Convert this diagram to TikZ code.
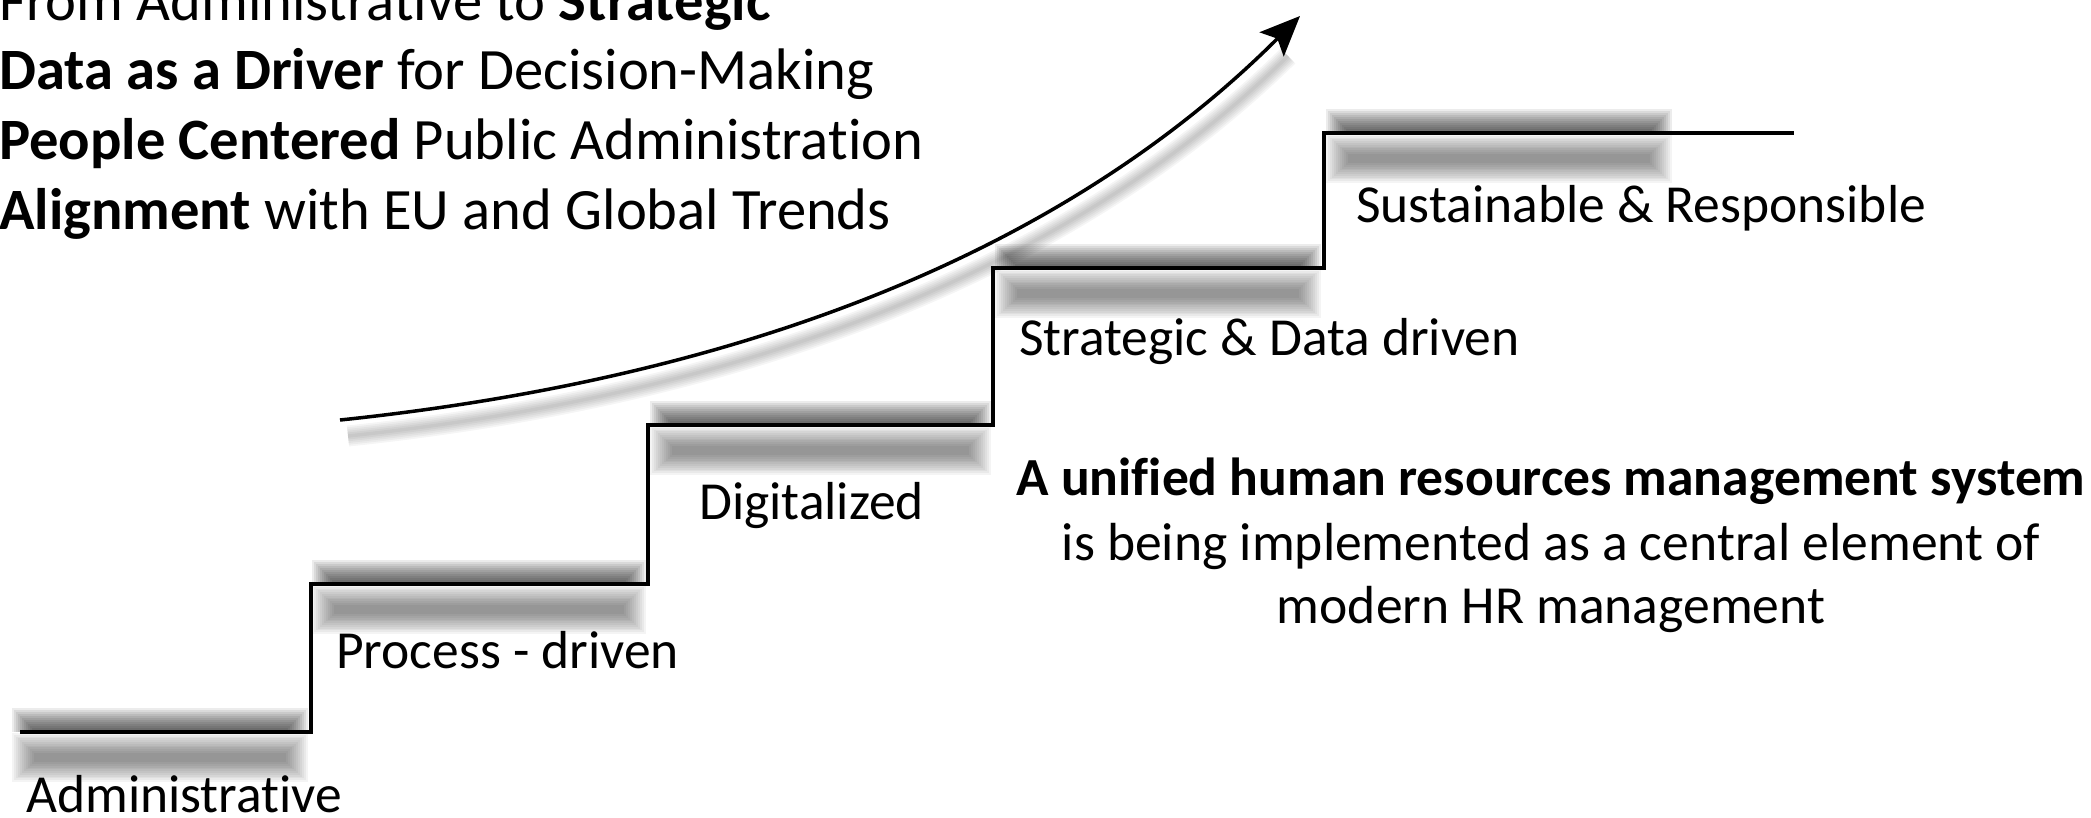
\documentclass[tikz,border=0pt]{standalone}
\usepackage{fontspec}
\setmainfont{Carlito}[Ligatures=NoCommon]
\usetikzlibrary{arrows.meta}

\tikzset{
  stair/.style={line width=4pt, line join=miter, line cap=butt},
  growth/.style={line width=3.5pt, -{Stealth[length=40pt,width=34pt,inset=8pt]}},
  steplabel/.style={anchor=base west, inner sep=0pt, font=\fontsize{53.5}{64}\selectfont},
  goal/.style={anchor=base west, inner sep=0pt, font=\fontsize{58.6}{70}\selectfont},
  hrline/.style={anchor=base, inner sep=0pt, font=\fontsize{53.6}{64}\selectfont},
}

\begin{document}
\begin{tikzpicture}[x=1pt, y=-1pt]
        \useasboundingbox (0,0) rectangle (2091,817);

        % soft shadows of the steps
        \foreach \xa/\xb/\yl in {12/308/732, 312/646/584, 650/991/425, 995/1321/268, 1326/1672/133} {
            \foreach \k in {0,...,11} {
                \fill[black, opacity=0.075] (\xa+\k*2, \yl-24+\k*2) rectangle (\xb-\k*2, \yl);
                \fill[black, opacity=0.045] (\xa+\k*2, \yl+1+\k*1.8) rectangle (\xb-\k*2, \yl+50-\k*1.8);
            }
        }

        % soft shadow of the arrow
        \begin{scope}[shift={(8,16)}]
            \foreach \k in {1,...,6}
                \draw[black, opacity=0.04, line width=\k*3.5pt] (340,420) .. controls (788,373) and (1088,228) .. (1280,40);
        \end{scope}

        \coordinate (s0) at (20, 732);
        \coordinate (s1) at (311, 732);
        \coordinate (s2) at (311, 584);
        \coordinate (s3) at (648, 584);
        \coordinate (s4) at (648, 425);
        \coordinate (s5) at (993, 425);
        \coordinate (s6) at (993, 268);
        \coordinate (s7) at (1324, 268);
        \coordinate (s8) at (1324, 133);
        \coordinate (s9) at (1794, 133);
        \draw[stair] (s0) -- (s1) -- (s2) -- (s3) -- (s4) -- (s5) -- (s6) -- (s7) -- (s8) -- (s9);

        \coordinate (a0) at (340, 420);
        \coordinate (a1) at (1300, 16);
        \draw[growth] (a0) .. controls (788, 373) and (1088, 228) .. (a1);

        \node[goal] (g1) at (-1, 20) {From Administrative to \textbf{Strategic}};
        \node[goal] (g2) at (-1, 89) {\textbf{Data as a Driver} for Decision-Making};
        \node[goal] (g3) at (-1, 159) {\textbf{People Centered} Public Administration};
        \node[goal] (g4) at (-1, 229) {\textbf{Alignment} with EU and Global Trends};

        \node[steplabel] (adm) at (26, 812) {Administrative};
        \node[steplabel] (proc) at (336, 668) {Process - driven};
        \node[steplabel] (dig) at (699, 519) {Digitalized};
        \node[steplabel] (strat) at (1019, 355) {Strategic \& Data driven};
        \node[steplabel] (sust) at (1356, 222) {Sustainable \& Responsible};

        \node[hrline] (hr1) at (1551, 495) {\textbf{A unified human resources management system}};
        \node[hrline] (hr2) at (1551, 560) {is being implemented as a central element of};
        \node[hrline] (hr3) at (1551, 623) {modern HR management};

    \end{tikzpicture}
\end{document}
